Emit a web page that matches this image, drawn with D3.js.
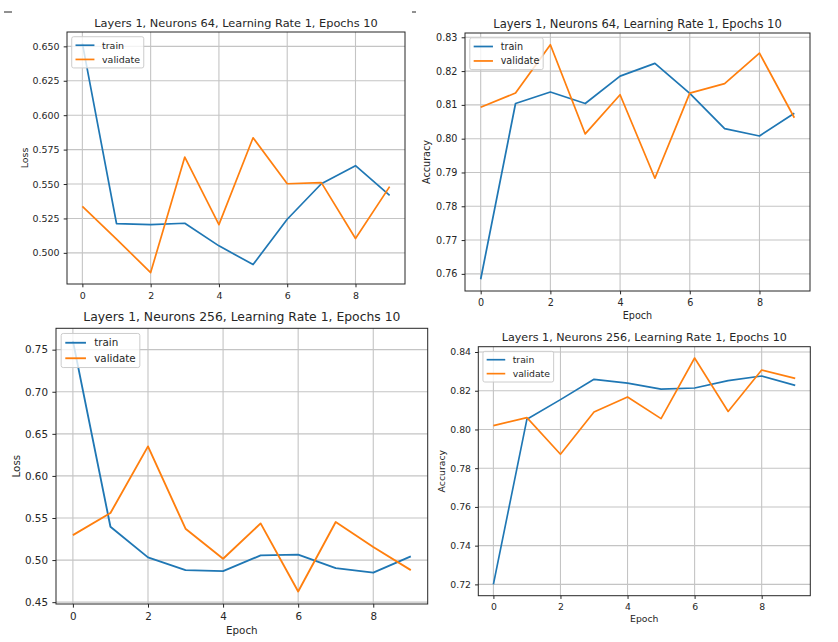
<!DOCTYPE html>
<html lang="en">
<head>
<meta charset="UTF-8">
<title>Layers 1 training curves</title>
<script src="https://d3js.org/d3.v7.min.js"></script>
<style>
    body { margin: 0; background: #fff; }
    svg text { font-family: "DejaVu Sans", sans-serif; fill: #262626; }
</style>
</head>
<body>
<svg id="chart" width="838" height="642"></svg>
<script>
    var epochs = [0, 1, 2, 3, 4, 5, 6, 7, 8, 9];
    var xTicks = [0, 2, 4, 6, 8];

    // Neurons 64
    var loss64Train = [0.6521, 0.5213, 0.5205, 0.5215, 0.5051, 0.4915, 0.5244, 0.5502, 0.5633, 0.5418];
    var loss64Val = [0.5338, 0.5100, 0.4857, 0.5696, 0.5205, 0.5836, 0.5502, 0.5510, 0.5104, 0.5481];
    var acc64Train = [0.7584, 0.8104, 0.8138, 0.8104, 0.8185, 0.8223, 0.8134, 0.8030, 0.8008, 0.8075];
    var acc64Val = [0.8093, 0.8135, 0.8278, 0.8014, 0.8130, 0.7883, 0.8135, 0.8163, 0.8253, 0.8062];

    // Neurons 256
    var loss256Train = [0.7605, 0.5396, 0.5032, 0.4881, 0.4869, 0.5056, 0.5064, 0.4905, 0.4850, 0.5044];
    var loss256Val = [0.5297, 0.5559, 0.6351, 0.5373, 0.5016, 0.5436, 0.4627, 0.5452, 0.5155, 0.4881];
    var acc256Train = [0.7200, 0.8053, 0.8154, 0.8259, 0.8239, 0.8208, 0.8214, 0.8252, 0.8276, 0.8228];
    var acc256Val = [0.8020, 0.8061, 0.7872, 0.8090, 0.8168, 0.8056, 0.8369, 0.8093, 0.8307, 0.8264];

    var lossTicks64 = [0.500, 0.525, 0.550, 0.575, 0.600, 0.625, 0.650];
    var accTicks64 = [0.76, 0.77, 0.78, 0.79, 0.80, 0.81, 0.82, 0.83];
    var lossTicks256 = [0.45, 0.50, 0.55, 0.60, 0.65, 0.70, 0.75];
    var accTicks256 = [0.72, 0.74, 0.76, 0.78, 0.80, 0.82, 0.84];

    var seriesNames = ["train", "validate"];
    var colors = ["#1f77b4", "#ff7f0e"];

    // four screenshots pasted together, each one a bit differently scaled
    var panels = [
        { title: "Layers 1, Neurons 64, Learning Rate 1, Epochs 10", ylabel: "Loss", xlabel: null,
          train: loss64Train, val: loss64Val, yTicks: lossTicks64, fmt: ".3f",
          box: [67, 32, 405, 284], s: 0.946, titleY: 27.3, ylabX: 28.3, xlabY: null },
        { title: "Layers 1, Neurons 64, Learning Rate 1, Epochs 10", ylabel: "Accuracy", xlabel: "Epoch",
          train: acc64Train, val: acc64Val, yTicks: accTicks64, fmt: ".2f",
          box: [465, 33, 810, 291], s: 0.964, titleY: 27.5, ylabX: 430.3, xlabY: 318.5 },
        { title: "Layers 1, Neurons 256, Learning Rate 1, Epochs 10", ylabel: "Loss", xlabel: "Epoch",
          train: loss256Train, val: loss256Val, yTicks: lossTicks256, fmt: ".2f",
          box: [56, 328.3, 427.7, 604], s: 1.033, titleY: 321.3, ylabX: 20, xlabY: 633.7 },
        { title: "Layers 1, Neurons 256, Learning Rate 1, Epochs 10", ylabel: "Accuracy", xlabel: "Epoch",
          train: acc256Train, val: acc256Val, yTicks: accTicks256, fmt: ".2f",
          box: [478.3, 346.7, 810.3, 595.7], s: 0.929, titleY: 340.7, ylabX: 445.1, xlabY: 621.7 }
    ];

    var svg = d3.select("#chart");

    // little stray marks at the top of the screenshot
    svg.append("line").attr("x1", 4).attr("x2", 12).attr("y1", 12).attr("y2", 12)
        .attr("stroke", "#222").attr("stroke-width", 1);
    svg.append("line").attr("x1", 412).attr("x2", 416).attr("y1", 12).attr("y2", 12)
        .attr("stroke", "#222").attr("stroke-width", 1);

    for (var k = 0; k < panels.length; k++) {
        drawPanel(panels[k]);
    }

    function drawPanel(p) {
        var s = p.s;
        var fs = 10 * s;
        var left = p.box[0], top = p.box[1], right = p.box[2], bottom = p.box[3];
        var g = svg.append("g");

        var x = d3.scaleLinear().domain([-0.45, 9.45]).range([left, right]);
        var all = p.train.concat(p.val);
        var lo = d3.min(all), hi = d3.max(all), pad = (hi - lo) * 0.05;
        var y = d3.scaleLinear().domain([lo - pad, hi + pad]).range([bottom, top]);

        // grid
        g.selectAll(".vgrid").data(xTicks).enter().append("line")
            .attr("x1", function (d) { return x(d); })
            .attr("x2", function (d) { return x(d); })
            .attr("y1", top).attr("y2", bottom)
            .attr("stroke", "#c4c4c4").attr("stroke-width", 1.1);
        g.selectAll(".hgrid").data(p.yTicks).enter().append("line")
            .attr("x1", left).attr("x2", right)
            .attr("y1", function (d) { return y(d); })
            .attr("y2", function (d) { return y(d); })
            .attr("stroke", "#c4c4c4").attr("stroke-width", 1.1);

        // axes
        var xa = g.append("g").attr("transform", "translate(0," + bottom + ")")
            .call(d3.axisBottom(x).tickValues(xTicks).tickFormat(d3.format("d"))
                .tickSize(3.5 * s).tickPadding(3.5 * s + 1.2));
        var ya = g.append("g").attr("transform", "translate(" + left + ",0)")
            .call(d3.axisLeft(y).tickValues(p.yTicks).tickFormat(d3.format(p.fmt))
                .tickSize(3.5 * s).tickPadding(3.5 * s + 0.8));
        [xa, ya].forEach(function (a) {
            a.select(".domain").remove();
            a.attr("font-size", fs).attr("font-family", "DejaVu Sans");
            a.selectAll("line").attr("stroke", "#262626").attr("stroke-width", 1);
            a.selectAll("text").attr("fill", "#262626");
        });

        // lines
        var line = d3.line()
            .x(function (d, i) { return x(epochs[i]); })
            .y(function (d) { return y(d); });
        var series = [p.train, p.val];
        for (var j = 0; j < series.length; j++) {
            g.append("path").datum(series[j])
                .attr("d", line)
                .attr("fill", "none")
                .attr("stroke", colors[j])
                .attr("stroke-width", 1.5 * s * 1.2)
                .attr("stroke-linejoin", "round");
        }

        // spines
        g.append("rect")
            .attr("x", left).attr("y", top)
            .attr("width", right - left).attr("height", bottom - top)
            .attr("fill", "none").attr("stroke", "#262626").attr("stroke-width", 1);

        // title + labels
        g.append("text")
            .attr("x", (left + right) / 2).attr("y", p.titleY)
            .attr("text-anchor", "middle").attr("font-size", 12 * s)
            .text(p.title);
        g.append("text")
            .attr("transform", "translate(" + p.ylabX + "," + (top + bottom) / 2 + ") rotate(-90)")
            .attr("text-anchor", "middle").attr("font-size", fs)
            .text(p.ylabel);
        if (p.xlabel) {
            g.append("text")
                .attr("x", (left + right) / 2).attr("y", p.xlabY)
                .attr("text-anchor", "middle").attr("font-size", fs)
                .text(p.xlabel);
        }

        // legend, upper left
        var lx = left + 0.5 * fs, ly = top + 0.5 * fs;
        var lg = g.append("g");
        var box = lg.append("rect")
            .attr("x", lx).attr("y", ly)
            .attr("height", 3.3 * fs)
            .attr("rx", 0.2 * fs)
            .attr("fill", "#fff").attr("fill-opacity", 0.8)
            .attr("stroke", "#cccccc").attr("stroke-width", 1);
        var widest = 0;
        for (var j = 0; j < seriesNames.length; j++) {
            var cy = ly + 0.9 * fs + j * 1.5 * fs;
            lg.append("line")
                .attr("x1", lx + 0.4 * fs).attr("x2", lx + 2.4 * fs)
                .attr("y1", cy).attr("y2", cy)
                .attr("stroke", colors[j]).attr("stroke-width", 1.5 * s * 1.2);
            var t = lg.append("text")
                .attr("x", lx + 3.2 * fs).attr("y", cy + 0.35 * fs)
                .attr("font-size", fs)
                .text(seriesNames[j]);
            widest = Math.max(widest, t.node().getComputedTextLength());
        }
        box.attr("width", 3.6 * fs + widest);
    }
</script>
</body>
</html>
